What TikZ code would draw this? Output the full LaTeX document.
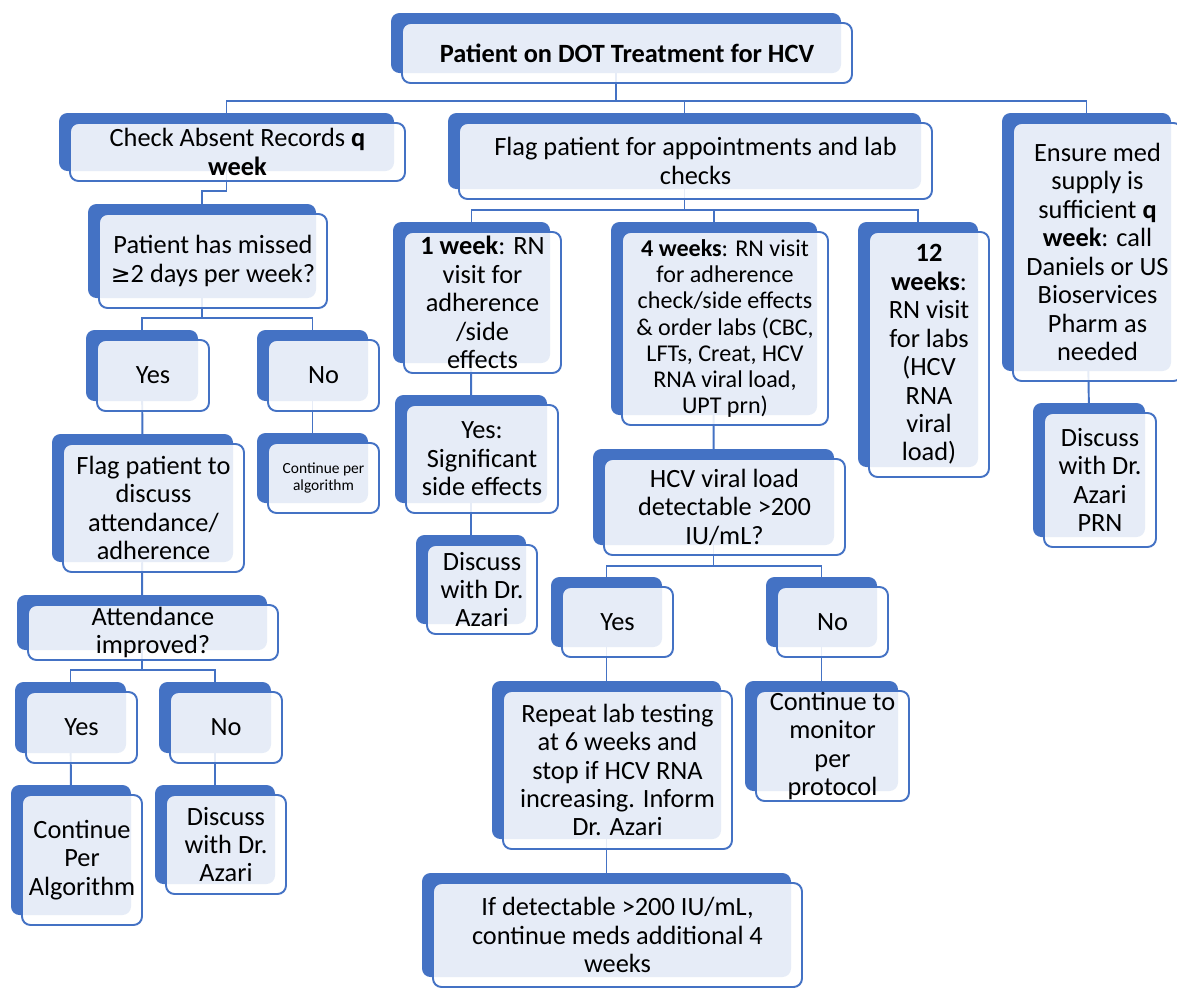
\documentclass[tikz,border=0pt]{standalone}
\usepackage{fontspec}
\setmainfont{Carlito}
\newfontfamily\symfont{DejaVu Sans}[Scale=0.9]
\usetikzlibrary{calc,shadows,backgrounds}
\definecolor{cardblue}{HTML}{4472C4}
\tikzset{
	card/.style={draw=cardblue, line width=1.1pt, rounded corners=0.17cm, fill=white, fill opacity=0.87, text opacity=1,
		inner sep=0pt, align=center, font=\fontsize{15}{16.2}\selectfont,
		general shadow={fill=cardblue, fill opacity=1, shadow xshift=-0.22cm, shadow yshift=0.2cm}},
	sz/.style 2 args={minimum width=#1*0.02cm, minimum height=#2*0.02cm},
	small/.style={font=\fontsize{8.8}{9.6}\selectfont},
	link/.style={draw=cardblue, line width=1.1pt}
}
\begin{document}
\begin{tikzpicture}[x=0.02cm, y=-0.02cm]
	\useasboundingbox (0,0) rectangle (1177,988);
	% the blue back card sits \bx left of the front card
	\def\bx{-11}
	
	\node[card,sz={450}{60}] (Root) at (627,53) {\textbf{Patient on DOT Treatment for HCV}};
	
	\node[card,sz={335}{58}] (Absent) at (237.5,152) {Check Absent Records \textbf{q}\\\textbf{week}};
	\node[card,sz={473}{76}] (Flag) at (695.5,161) {Flag patient for appointments and lab\\checks};
	\node[card,sz={169}{258}] (Supply) at (1097.5,252) {Ensure med\\supply is\\sufficient \textbf{q}\\\textbf{week}: call\\Daniels or US\\Bioservices\\Pharm as\\needed};
	
	% left branch
	\node[card,sz={228}{94}] (Missed) at (213,261) {Patient has missed\\{\symfont ≥}2 days per week?};
	\node[card,sz={112}{71}] (Yes1) at (153,375.5) {Yes};
	\node[card,sz={111}{71}] (No1) at (323.5,375.5) {No};
	\node[card,sz={181}{128}] (FlagTalk) at (153.5,508) {Flag patient to\\discuss\\attendance/\\adherence};
	\node[card,small,sz={111}{70}] (Cont1) at (323.5,478) {Continue per\\algorithm};
	\node[card,sz={250}{55}] (Attend) at (153,632.5) {Attendance\\improved?};
	\node[card,sz={111}{71}] (Yes2) at (81.5,727.5) {Yes};
	\node[card,sz={112}{71}] (No2) at (226,727.5) {No};
	\node[card,sz={120}{130}] (Cont2) at (82,860) {Continue\\Per\\Algorithm};
	\node[card,sz={120}{99}] (Azari1) at (226,844.5) {Discuss\\with Dr.\\Azari};
	
	% middle branch
	\node[card,sz={157}{141}] (Week1) at (482.5,302.5) {\textbf{1 week}: RN\\visit for\\adherence\\/side\\effects};
	\node[card,sz={206}{193},font=\fontsize{13.7}{14.9}\selectfont] (Week4) at (725,328.5) {\textbf{4 weeks}: RN visit\\for adherence\\check/side effects\\\& order labs (CBC,\\LFTs, Creat, HCV\\RNA viral load,\\UPT prn)};
	\node[card,sz={120}{245}] (Week12) at (929,354.5) {\textbf{12}\\\textbf{weeks}:\\RN visit\\for labs\\(HCV\\RNA\\viral\\load)};
	\node[card,sz={152}{108}] (SideFx) at (482,459) {Yes:\\Significant\\side effects};
	\node[card,sz={110}{89}] (Azari2) at (482,589.5) {Discuss\\with Dr.\\Azari};
	\node[card,sz={241}{96}] (Load) at (724.5,507) {HCV viral load\\detectable >200\\IU/mL?};
	\node[card,sz={111}{70}] (Yes3) at (617.5,622) {Yes};
	\node[card,sz={111}{70}] (No3) at (832.5,622) {No};
	\node[card,sz={229}{158}] (Repeat) at (617.5,770) {Repeat lab testing\\at 6 weeks and\\stop if HCV RNA\\increasing. Inform\\Dr. Azari};
	\node[card,sz={153}{110}] (Monitor) at (832.5,746) {Continue to\\monitor\\per\\protocol};
	\node[card,sz={369}{104}] (Extend) at (617.5,935) {If detectable >200 IU/mL,\\continue meds additional 4\\weeks};
	
	% right branch
	\node[card,sz={112}{134}] (Azari3) at (1100,480) {Discuss\\with Dr.\\Azari\\PRN};
	
	\begin{scope}[on background layer]
		\draw[link] ($(Root.center)+(\bx,0)$) -- ($(Root.south)+(\bx,17)$) -| ($(Absent.north)+(\bx,0)$);
		\draw[link] ($(Root.center)+(\bx,0)$) -- ($(Root.south)+(\bx,17)$) -| ($(Flag.north)+(\bx,0)$);
		\draw[link] ($(Root.center)+(\bx,0)$) -- ($(Root.south)+(\bx,17)$) -| ($(Supply.north)+(\bx,0)$);
		
		\draw[link] ($(Absent.center)+(\bx,0)$) -- ($(Absent.south)+(\bx,9)$) -| ($(Missed.north)+(\bx,0)$);
		\draw[link] ($(Missed.center)+(\bx,0)$) -- ($(Missed.south)+(\bx,9)$) -| ($(Yes1.north)+(\bx,0)$);
		\draw[link] ($(Missed.center)+(\bx,0)$) -- ($(Missed.south)+(\bx,9)$) -| ($(No1.north)+(\bx,0)$);
		\draw[link] ($(Yes1.center)+(\bx,0)$) -- ($(FlagTalk.north)+(\bx,0)$);
		\draw[link] ($(No1.center)+(\bx,0)$) -- ($(Cont1.north)+(\bx,0)$);
		\draw[link] ($(FlagTalk.center)+(\bx,0)$) -- ($(Attend.north)+(\bx,0)$);
		\draw[link] ($(Attend.center)+(\bx,0)$) -- ($(Attend.south)+(\bx,9)$) -| ($(Yes2.north)+(\bx,0)$);
		\draw[link] ($(Attend.center)+(\bx,0)$) -- ($(Attend.south)+(\bx,9)$) -| ($(No2.north)+(\bx,0)$);
		\draw[link] ($(Yes2.center)+(\bx,0)$) -- ($(Cont2.north)+(\bx,0)$);
		\draw[link] ($(No2.center)+(\bx,0)$) -- ($(Azari1.north)+(\bx,0)$);
		
		\draw[link] ($(Flag.center)+(\bx,0)$) -- ($(Flag.south)+(\bx,10)$) -| ($(Week1.north)+(\bx,0)$);
		\draw[link] ($(Flag.center)+(\bx,0)$) -- ($(Flag.south)+(\bx,10)$) -| ($(Week4.north)+(\bx,0)$);
		\draw[link] ($(Flag.center)+(\bx,0)$) -- ($(Flag.south)+(\bx,10)$) -| ($(Week12.north)+(\bx,0)$);
		\draw[link] ($(Week1.center)+(\bx,0)$) -- ($(SideFx.north)+(\bx,0)$);
		\draw[link] ($(SideFx.center)+(\bx,0)$) -- ($(Azari2.north)+(\bx,0)$);
		\draw[link] ($(Week4.center)+(\bx,0)$) -- ($(Load.north)+(\bx,0)$);
		\draw[link] ($(Load.center)+(\bx,0)$) -- ($(Load.south)+(\bx,10)$) -| ($(Yes3.north)+(\bx,0)$);
		\draw[link] ($(Load.center)+(\bx,0)$) -- ($(Load.south)+(\bx,10)$) -| ($(No3.north)+(\bx,0)$);
		\draw[link] ($(Yes3.center)+(\bx,0)$) -- ($(Repeat.north)+(\bx,0)$);
		\draw[link] ($(No3.center)+(\bx,0)$) -- ($(Monitor.north)+(\bx,0)$);
		\draw[link] ($(Repeat.center)+(\bx,0)$) -- ($(Extend.north)+(\bx,0)$);
		
		\draw[link] ($(Supply.center)+(\bx,0)$) -- ($(Azari3.north)+(\bx,0)$);
	\end{scope}
	
\end{tikzpicture}
\end{document}
